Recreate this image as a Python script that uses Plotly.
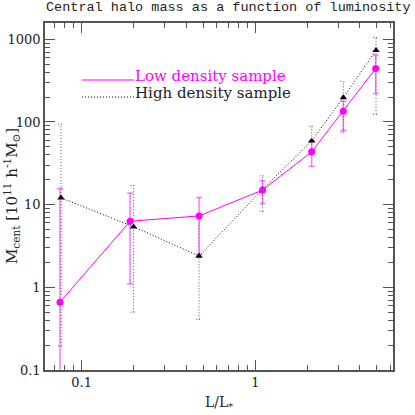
import plotly.graph_objects as go
import math

# ---- data ----
low_L = [0.075, 0.19, 0.474, 1.10, 2.11, 3.21, 4.93]
low_M = [0.66, 6.3, 7.3, 15.0, 43.5, 135, 443]
low_hi = [15.7, 13.8, 12.2, 19.5, 59, 178, 645]
low_lo = [0.01, 1.1, 2.5, 10.3, 29, 79, 220]

high_L = [0.076, 0.199, 0.474, 1.10, 2.11, 3.21, 4.95]
high_M = [12.1, 5.4, 2.39, 15.3, 59, 197, 736]
high_hi = [94, 17, 7.5, 22.3, 89, 308, 1050]
high_lo = [0.195, 0.50, 0.41, 8.3, 44, 75, 124]

x_ticks = [0.1, 1]
x_ticklabels = ["0.1", "1"]
y_ticks = [0.1, 1, 10, 100, 1000]
y_ticklabels = ["0.1", "1", "10", "100", "1000"]

title_text = "Central halo mass as a function of luminosity"
legend_labels = ["Low density sample", "High density sample"]

MAG = "#ff00ff"
MAG_ERR = "rgba(255,0,255,0.55)"
BLK = "#000000"
BLK_ERR = "#555555"
FONT = "DejaVu Serif"
AX = "#555555"
DOT = "1px,2px"

def err_segments(xs, lo, hi, cap=0.017):
    ex, ey = [], []
    f = 10 ** cap
    for x, a, b in zip(xs, lo, hi):
        ex += [x, x, None, x / f, x * f, None, x / f, x * f, None]
        ey += [a, b, None, a, a, None, b, b, None]
    return ex, ey

fig = go.Figure()

hx, hy = err_segments(high_L, high_lo, high_hi)
fig.add_trace(go.Scatter(x=hx, y=hy, mode="lines",
                         line=dict(color=BLK_ERR, width=1, dash=DOT),
                         hoverinfo="skip", showlegend=False))
lx, ly = err_segments(low_L, low_lo, low_hi)
fig.add_trace(go.Scatter(x=lx, y=ly, mode="lines",
                         line=dict(color=MAG_ERR, width=1.5),
                         hoverinfo="skip", showlegend=False))

fig.add_trace(go.Scatter(x=high_L, y=high_M, mode="lines+markers",
                         line=dict(color=BLK, width=1, dash=DOT),
                         marker=dict(symbol="triangle-up", size=6.5, color=BLK),
                         name=legend_labels[1], showlegend=False))
fig.add_trace(go.Scatter(x=low_L, y=low_M, mode="lines+markers",
                         line=dict(color=MAG, width=1),
                         marker=dict(symbol="circle", size=7, color=MAG),
                         name=legend_labels[0], showlegend=False))

L, R, T, B = 45, 22, 23, 45
W = H = 415
pw = W - L - R
ph = H - T - B

def px2paper_x(px):
    return (px - L) / pw

def px2paper_y(py):
    return 1 - (py - T) / ph

# legend drawn as line + text
for i, (lab, col, dash) in enumerate([(legend_labels[0], MAG, "solid"),
                                      (legend_labels[1], BLK, DOT)]):
    yl = 80 + i * 17
    fig.add_shape(type="line", xref="paper", yref="paper",
                  x0=px2paper_x(82), x1=px2paper_x(134),
                  y0=px2paper_y(yl), y1=px2paper_y(yl),
                  line=dict(color=col, width=1, dash=dash))
    fig.add_annotation(xref="paper", yref="paper",
                       x=px2paper_x(133), y=px2paper_y(yl - 4),
                       text=lab, showarrow=False, xanchor="left", yanchor="middle",
                       font=dict(family=FONT, size=15, color=col if i == 0 else "#222222"))

# y-axis title
fig.add_annotation(xref="paper", yref="paper",
                   x=px2paper_x(11), y=px2paper_y(196),
                   text="M<sub>cent</sub> [10<sup>11</sup> h<sup>-1</sup>M<sub>⊙</sub>]",
                   textangle=-90, showarrow=False, xanchor="center", yanchor="middle",
                   font=dict(family=FONT, size=15, color="#222222"))

# x-axis title
fig.add_annotation(xref="paper", yref="paper",
                   x=px2paper_x(219), y=px2paper_y(403),
                   text="L/L<sub>*</sub>", showarrow=False,
                   xanchor="center", yanchor="middle",
                   font=dict(family=FONT, size=14, color="#222222"))

# title
fig.add_annotation(xref="paper", yref="paper",
                   x=px2paper_x(228), y=px2paper_y(7),
                   text=title_text, showarrow=False,
                   xanchor="center", yanchor="middle",
                   font=dict(family="Liberation Mono", size=13.5, color="#222222"))

axis_common = dict(type="log", showgrid=False, zeroline=False, automargin=False,
                   showline=True, linecolor=AX, linewidth=1.5, mirror="allticks",
                   ticks="inside", ticklen=10, tickcolor=AX, tickwidth=1,
                   tickfont=dict(family=FONT, size=13, color="#222222"),
                   minor=dict(ticks="inside", ticklen=5, tickcolor=AX, showgrid=False,
                              dtick="D1"))

fig.update_layout(
    width=W, height=H,
    margin=dict(l=L, r=R, t=T, b=B, autoexpand=False),
    paper_bgcolor="white", plot_bgcolor="white",
    xaxis=dict(axis_common, range=[math.log10(0.0615), math.log10(6.2)],
               tickvals=x_ticks, ticktext=x_ticklabels),
    yaxis=dict(axis_common, range=[-1, 3.197],
               tickvals=y_ticks, ticktext=y_ticklabels),
    showlegend=False,
)

fig.write_html("out.html", config={"displayModeBar": False},
               post_script="document.body.style.margin='0';document.body.style.overflow='hidden';")
